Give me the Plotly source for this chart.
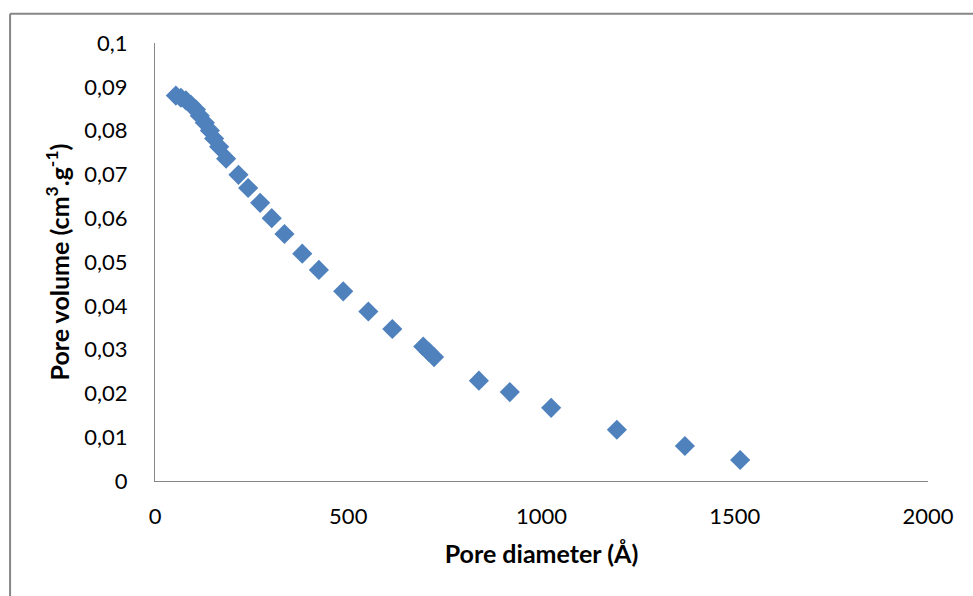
import plotly.graph_objects as go

# BJH pore size distribution: cumulative pore volume vs pore diameter
pore_diameter = [54, 67, 80, 93, 106, 116, 129, 142, 153, 166, 184,
                 216, 241, 272, 302, 335, 381, 424, 487, 552, 614,
                 694, 708, 722, 838, 918, 1025, 1195, 1371, 1514]
pore_volume = [0.0880, 0.0875, 0.0869, 0.0859, 0.0848, 0.0834, 0.0818, 0.0800,
               0.0782, 0.0763, 0.0736, 0.0699, 0.0669, 0.0635, 0.0600, 0.0564,
               0.0519, 0.0482, 0.0433, 0.0387, 0.0347, 0.0307, 0.0295, 0.0283,
               0.0229, 0.0203, 0.0167, 0.0117, 0.0080, 0.0048]

x_ticks = [0, 500, 1000, 1500, 2000]
y_ticks = [0, 0.01, 0.02, 0.03, 0.04, 0.05, 0.06, 0.07, 0.08, 0.09, 0.1]

FONT = "Lato"
AXIS_GREY = "#868686"
TICK_SIZE = 22
TITLE_SIZE = 25

fig = go.Figure(
    go.Scatter(
        x=pore_diameter,
        y=pore_volume,
        mode="markers",
        marker=dict(symbol="diamond", size=15.5, color="#4F81BD",
                    line=dict(width=0)),
        showlegend=False,
    )
)

fig.update_layout(
    width=973,
    height=596,
    margin=dict(l=155, r=45, t=43, b=115),
    paper_bgcolor="white",
    plot_bgcolor="white",
    separators=", ",
    font=dict(family=FONT, size=TICK_SIZE, color="black"),
    xaxis=dict(
        range=[0, 2000],
        tickvals=x_ticks,
        ticktext=[str(v) for v in x_ticks],
        showgrid=False,
        zeroline=False,
        showline=True,
        linecolor=AXIS_GREY,
        linewidth=1.3,
        ticks="",
        ticklabelstandoff=15,
        tickfont=dict(size=TICK_SIZE),
        title=dict(text="<b>Pore diameter (Å)</b>",
                   font=dict(size=TITLE_SIZE), standoff=17),
        automargin=False,
    ),
    yaxis=dict(
        range=[0, 0.1],
        tickvals=y_ticks,
        ticktext=[("%g" % v).replace(".", ",") for v in y_ticks],
        showgrid=False,
        zeroline=False,
        showline=True,
        linecolor=AXIS_GREY,
        linewidth=1.3,
        ticks="",
        ticklabelstandoff=22,
        tickfont=dict(size=TICK_SIZE),
        title=dict(text="<b>Pore volume (cm<sup>3</sup>.g<sup>-1</sup>)</b>",
                   font=dict(size=TITLE_SIZE), standoff=7),
        automargin=False,
    ),
    shapes=[
        # chart-area frame (left and top edges)
        dict(type="line", xref="paper", yref="paper",
             x0=-0.1875, x1=-0.1875, y0=1.067, y1=-0.3,
             line=dict(color=AXIS_GREY, width=2)),
        dict(type="line", xref="paper", yref="paper",
             x0=-0.1875, x1=1.1, y0=1.067, y1=1.067,
             line=dict(color=AXIS_GREY, width=2)),
    ],
)

fig.write_html("out.html")
